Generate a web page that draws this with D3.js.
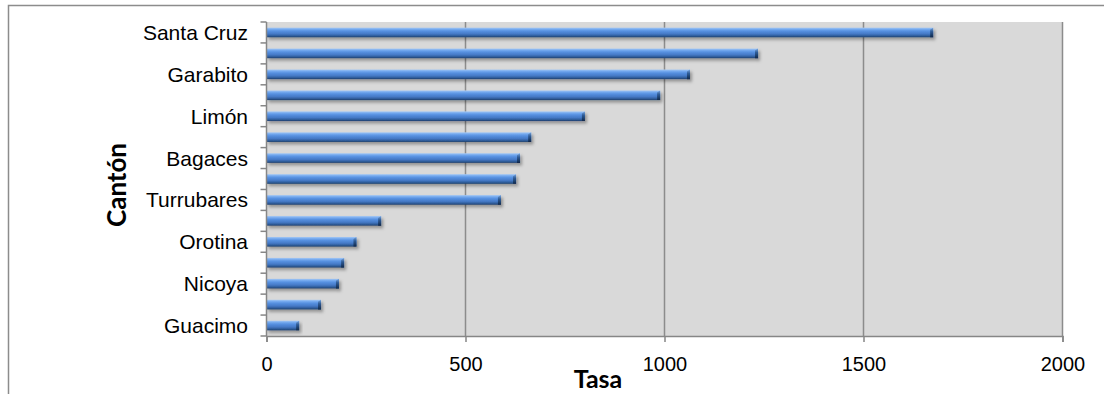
<!DOCTYPE html>
<html>
<head>
<meta charset="utf-8">
<script src="https://cdn.jsdelivr.net/npm/d3@7"></script>
<style>
  html, body { margin: 0; padding: 0; background: #ffffff; }
  svg { display: block; }
</style>
</head>
<body>
<svg id="chart" width="1104" height="394"></svg>
<script>
// Category labels (only every other label is printed in the original chart)
const categories = ["Santa Cruz", "", "Garabito", "", "Limón", "", "Bagaces", "",
                    "Turrubares", "", "Orotina", "", "Nicoya", "", "Guacimo"];
// Tasa values
const values = [1675, 1235, 1064, 989, 800, 665, 637, 627, 589, 288, 226, 195, 182, 137, 82];
const xTicks = [0, 500, 1000, 1500, 2000];
const xTitle = "Tasa";
const yTitle = "Cantón";

const svg = d3.select("#chart");
const W = 1104, H = 394;
const plot = { left: 266.5, right: 1062.5, top: 22, bottom: 336 };

// outer frame
svg.append("rect")
  .attr("x", 8.5).attr("y", 5.5)
  .attr("width", W + 20).attr("height", H + 20)
  .attr("fill", "#ffffff").attr("stroke", "#8c8c8c").attr("stroke-width", 1.5);

const x = d3.scaleLinear().domain([0, 2000]).range([plot.left, plot.right]);
const y = d3.scaleBand().domain(d3.range(categories.length))
  .range([plot.top, plot.bottom]).paddingInner(0.54).paddingOuter(0.27);
const yBand = d3.scaleBand().domain(d3.range(categories.length))
  .range([plot.top, plot.bottom]);

const defs = svg.append("defs");
const grad = defs.append("linearGradient").attr("id", "barGrad")
  .attr("x1", 0).attr("y1", 0).attr("x2", 0).attr("y2", 1);
[[0, "#a5c8f4"], [0.18, "#73a8ee"], [0.36, "#5690e0"], [0.65, "#4579c6"], [0.85, "#2f5d9b"], [1, "#1f3f6c"]]
  .forEach(([o, c]) => grad.append("stop").attr("offset", o).attr("stop-color", c));
const capGrad = defs.append("linearGradient").attr("id", "capGrad")
  .attr("x1", 0).attr("y1", 0).attr("x2", 0).attr("y2", 1);
[[0, "#7aa6dd"], [0.4, "#2f5c97"], [1, "#10284a"]]
  .forEach(([o, c]) => capGrad.append("stop").attr("offset", o).attr("stop-color", c));
const shadow = defs.append("filter").attr("id", "shadow")
  .attr("x", "-5%").attr("y", "-50%").attr("width", "115%").attr("height", "250%");
shadow.append("feDropShadow").attr("dx", 2).attr("dy", 2.5)
  .attr("stdDeviation", 1.6).attr("flood-color", "#000").attr("flood-opacity", 0.32);

// plot background
svg.append("rect")
  .attr("x", plot.left).attr("y", plot.top)
  .attr("width", plot.right - plot.left).attr("height", plot.bottom - plot.top)
  .attr("fill", "#d9d9d9");

// gridlines
svg.append("g").selectAll("line").data(xTicks.filter(d => d > 0)).join("line")
  .attr("x1", d => x(d)).attr("x2", d => x(d))
  .attr("y1", plot.top).attr("y2", plot.bottom)
  .attr("stroke", "#8c8c8c").attr("stroke-width", 1.5);

// bars
const bars = svg.append("g").selectAll("g").data(values).join("g")
  .attr("filter", "url(#shadow)");
bars.append("rect")
  .attr("x", x(0)).attr("y", (d, i) => y(i))
  .attr("width", d => x(d) - x(0)).attr("height", y.bandwidth())
  .attr("fill", "url(#barGrad)");
bars.append("path")
  .attr("d", (d, i) => {
    const xe = x(d), y0 = y(i), h = y.bandwidth();
    return `M${xe - 3},${y0 + 2}L${xe},${y0}L${xe},${y0 + h}L${xe - 3},${y0 + h}Z`;
  })
  .attr("fill", "url(#capGrad)");

// x axis
const xAxis = svg.append("g").attr("transform", `translate(0,${plot.bottom})`)
  .call(d3.axisBottom(x).tickValues(xTicks).tickSize(6).tickPadding(15).tickFormat(d3.format("d")));
xAxis.select(".domain").attr("stroke", "#868686").attr("stroke-width", 1.5);
xAxis.selectAll(".tick line").attr("stroke", "#868686").attr("stroke-width", 1.5);
xAxis.selectAll(".tick text")
  .attr("font-family", "'Liberation Sans', Arial, sans-serif").attr("font-size", 20)
  .attr("fill", "#000");

// y axis: line + ticks at band boundaries
svg.append("line")
  .attr("x1", plot.left).attr("x2", plot.left)
  .attr("y1", plot.top).attr("y2", plot.bottom)
  .attr("stroke", "#868686").attr("stroke-width", 1.5);
const bounds = d3.range(categories.length + 1).map(i => i < categories.length ? yBand(i) : plot.bottom);
svg.append("g").selectAll("line").data(bounds).join("line")
  .attr("x1", plot.left - 6).attr("x2", plot.left)
  .attr("y1", d => d).attr("y2", d => d)
  .attr("stroke", "#868686").attr("stroke-width", 1.5);
svg.append("g").selectAll("text").data(categories).join("text")
  .attr("x", 248)
  .attr("y", (d, i) => yBand(i) + yBand.bandwidth() / 2)
  .attr("dy", "0.36em")
  .attr("text-anchor", "end")
  .attr("font-family", "'Liberation Sans', Arial, sans-serif").attr("font-size", 21)
  .attr("fill", "#000")
  .text(d => d);

// axis titles
svg.append("text")
  .attr("x", 598).attr("y", 388)
  .attr("text-anchor", "middle")
  .attr("font-family", "Lato, 'Open Sans', sans-serif").attr("font-weight", "bold")
  .attr("font-size", 25).attr("fill", "#000")
  .text(xTitle);
svg.append("text")
  .attr("transform", "translate(126,185) rotate(-90)")
  .attr("text-anchor", "middle")
  .attr("font-family", "Lato, 'Open Sans', sans-serif").attr("font-weight", "bold")
  .attr("font-size", 26).attr("fill", "#000")
  .text(yTitle);
</script>
</body>
</html>
